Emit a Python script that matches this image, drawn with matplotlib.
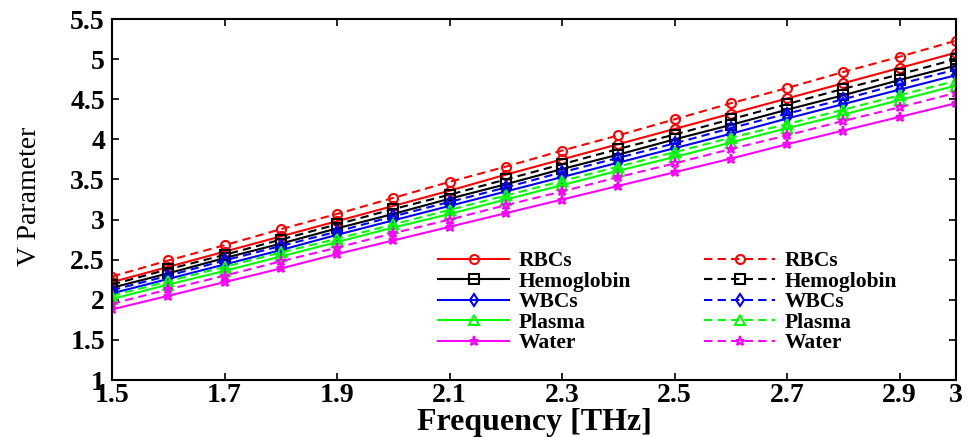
import numpy as np
import matplotlib
matplotlib.use('Agg')
from matplotlib import pyplot as plt

# frequency points (THz)
freq = [1.5, 1.6, 1.7, 1.8, 1.9, 2.0, 2.1, 2.2, 2.3, 2.4, 2.5, 2.6, 2.7, 2.8, 2.9, 3.0]

# V parameter, solid lines
rbc_solid = [2.22, 2.41, 2.60, 2.79, 2.98, 3.17, 3.36, 3.56, 3.75, 3.94, 4.13, 4.32, 4.51, 4.70, 4.89, 5.08]
hb_solid = [2.15, 2.33, 2.52, 2.70, 2.89, 3.07, 3.26, 3.44, 3.63, 3.81, 4.00, 4.18, 4.37, 4.55, 4.74, 4.92]
wbc_solid = [2.08, 2.26, 2.44, 2.62, 2.81, 2.99, 3.17, 3.35, 3.53, 3.71, 3.89, 4.07, 4.26, 4.44, 4.62, 4.80]
plasma_solid = [2.01, 2.19, 2.36, 2.54, 2.72, 2.90, 3.07, 3.25, 3.43, 3.61, 3.78, 3.96, 4.14, 4.31, 4.49, 4.67]
water_solid = [1.88, 2.05, 2.22, 2.39, 2.57, 2.74, 2.91, 3.08, 3.25, 3.42, 3.59, 3.76, 3.94, 4.11, 4.28, 4.45]

# V parameter, dashed lines
rbc_dash = [2.29, 2.49, 2.68, 2.88, 3.07, 3.27, 3.47, 3.66, 3.86, 4.05, 4.25, 4.45, 4.64, 4.84, 5.03, 5.23]
hb_dash = [2.19, 2.38, 2.56, 2.75, 2.94, 3.13, 3.31, 3.50, 3.69, 3.88, 4.06, 4.25, 4.44, 4.63, 4.81, 5.00]
wbc_dash = [2.12, 2.30, 2.49, 2.67, 2.85, 3.04, 3.22, 3.40, 3.59, 3.77, 3.95, 4.14, 4.32, 4.50, 4.69, 4.87]
plasma_dash = [2.05, 2.23, 2.41, 2.59, 2.76, 2.94, 3.12, 3.30, 3.48, 3.66, 3.84, 4.02, 4.19, 4.37, 4.55, 4.73]
water_dash = [1.95, 2.13, 2.30, 2.48, 2.65, 2.83, 3.00, 3.18, 3.35, 3.53, 3.70, 3.88, 4.05, 4.23, 4.40, 4.58]

names = ['RBCs', 'Hemoglobin', 'WBCs', 'Plasma', 'Water']
colors = ['#ff0000', '#000000', '#0000ff', '#00ff00', '#ff00ff']
markers = ['o', 's', 'd', '^', '*']

xtick_vals = [1.5, 1.7, 1.9, 2.1, 2.3, 2.5, 2.7, 2.9, 3.0]
xtick_labels = ['1.5', '1.7', '1.9', '2.1', '2.3', '2.5', '2.7', '2.9', '3']
ytick_vals = [1, 1.5, 2, 2.5, 3, 3.5, 4, 4.5, 5, 5.5]
ytick_labels = ['1', '1.5', '2', '2.5', '3', '3.5', '4', '4.5', '5', '5.5']

plt.rcParams['font.family'] = 'Liberation Serif'

fig = plt.figure(figsize=(9.75, 4.37), dpi=100)
ax = fig.add_axes([112/975, 1-380/437, 844/975, 361/437])

solid = [rbc_solid, hb_solid, wbc_solid, plasma_solid, water_solid]
dash = [rbc_dash, hb_dash, wbc_dash, plasma_dash, water_dash]

handles = []
for i in range(5):    # solid set
    h, = ax.plot(freq, solid[i], color=colors[i], marker=markers[i], ms=6.5,
                 mfc='none', mew=1.5, lw=1.5, label=names[i])
    handles.append(h)
for i in range(5):    # dashed set
    h, = ax.plot(freq, dash[i], color=colors[i], marker=markers[i], ms=6.5,
                 mfc='none', mew=1.5, lw=1.5, ls='--', dashes=(4, 2.5),
                 label=names[i])
    handles.append(h)

ax.set_xlim(1.5, 3.0)
ax.set_ylim(1, 5.5)
ax.set_xticks(xtick_vals)
ax.set_xticklabels(xtick_labels, fontsize=20, fontweight='bold')
ax.set_yticks(ytick_vals)
ax.set_yticklabels(ytick_labels, fontsize=20, fontweight='bold')
ax.tick_params(direction='in', length=5, width=1.2, top=True, right=True)
ax.tick_params(axis='x', pad=2)
ax.tick_params(axis='y', pad=5)
for s in ax.spines.values():
    s.set_linewidth(1.5)

ax.set_xlabel('Frequency [THz]', fontsize=23, fontweight='bold', labelpad=0)
ax.set_ylabel('V Parameter', fontsize=20)
ax.yaxis.set_label_coords(-0.083, 0.51)

leg = ax.legend(handles=handles, ncol=2, frameon=False, numpoints=1,
                prop={'size': 15.5, 'weight': 'bold'},
                handlelength=3.3, handletextpad=0.45, columnspacing=3.4,
                labelspacing=0.02, borderpad=0, borderaxespad=0,
                loc='upper left', bbox_to_anchor=(438/975, 1-251/437),
                bbox_transform=fig.transFigure)

fig.savefig('out.png', dpi=100)
